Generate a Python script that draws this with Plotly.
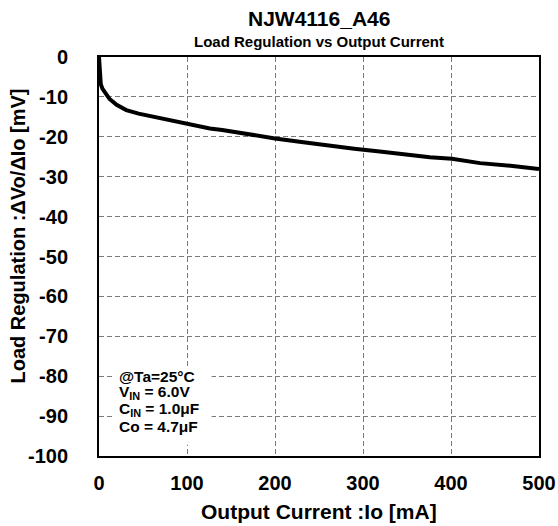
import plotly.graph_objects as go

current_mA = [0, 0.5, 1, 2, 4, 7, 12, 20, 31, 45, 58, 70, 81, 92, 103, 115, 126, 140,
              160, 183, 200, 230, 260, 290, 319, 342, 376, 401, 433, 470, 499, 500]
load_reg_mV = [0, -3, -5, -6.8, -8, -9, -10.5, -12, -13.3, -14.2, -14.8, -15.3, -15.9,
               -16.4, -16.8, -17.3, -17.9, -18.3, -19, -20, -20.4, -21.3, -22.2, -23,
               -23.7, -24.3, -25.1, -25.5, -26.6, -27.3, -28, -28.1]

x_ticks = [0, 100, 200, 300, 400, 500]
y_ticks = [0, -10, -20, -30, -40, -50, -60, -70, -80, -90, -100]

cond_lines = ["@Ta=25°C", "V<sub>IN</sub> = 6.0V", "C<sub>IN</sub> = 1.0μF", "Co = 4.7μF"]
cond_y = [-80.0, -84.2, -88.3, -92.5]

FONT = "Liberation Sans, Arial, sans-serif"

fig = go.Figure()
fig.add_trace(go.Scatter(x=current_mA, y=load_reg_mV, mode="lines",
                         line=dict(color="black", width=4), showlegend=False))

axis_common = dict(showgrid=True, gridcolor="#7a7a7a", griddash="5px,3px", gridwidth=1,
                   showline=True, linecolor="black", linewidth=2, mirror=True,
                   zeroline=False, ticks="", automargin=False,
                   tickfont=dict(family=FONT, size=20, color="black", weight="bold"))

fig.update_xaxes(range=[0, 500], tickvals=x_ticks, ticktext=[str(v) for v in x_ticks],
                 ticklabelstandoff=8, **axis_common)
fig.update_yaxes(range=[-100, 0], tickvals=y_ticks, ticktext=[str(v) for v in y_ticks],
                 ticklabelstandoff=25, **axis_common)

# titles
fig.add_annotation(text="<b>NJW4116_A46</b>", xref="paper", yref="paper",
                   x=0.5, y=1, yshift=39, showarrow=False, yanchor="middle",
                   font=dict(family=FONT, size=21, color="black"))
fig.add_annotation(text="<b>Load Regulation vs Output Current</b>", xref="paper", yref="paper",
                   x=0.5, y=1, yshift=16, showarrow=False, yanchor="middle",
                   font=dict(family=FONT, size=15, color="black"))
# axis titles
fig.add_annotation(text="<b>Output Current :Io [mA]</b>", xref="paper", yref="paper",
                   x=0.5, y=0, yshift=-55, showarrow=False, yanchor="middle",
                   font=dict(family=FONT, size=21, color="black"))
fig.add_annotation(text="<b>Load Regulation :ΔVo/ΔIo [mV]</b>",
                   xref="paper", yref="paper",
                   x=0, xshift=-82, y=0.5, yshift=20, showarrow=False, textangle=-90,
                   xanchor="center", yanchor="middle",
                   font=dict(family=FONT, size=20, color="black"))

# condition box background
fig.add_shape(type="rect", xref="x", yref="y", x0=16, x1=128, y0=-97.2, y1=-77.5,
              fillcolor="white", line=dict(width=0), layer="above")
for txt, yy in zip(cond_lines, cond_y):
    fig.add_annotation(text="<b>" + txt + "</b>", xref="x", yref="y", x=21, y=yy,
                       xanchor="left", yanchor="middle", align="left", showarrow=False,
                       font=dict(family=FONT, size=15.5, color="black"))

fig.update_layout(width=558, height=526, margin=dict(l=99, r=19, t=57, b=70),
                  paper_bgcolor="white", plot_bgcolor="white",
                  font=dict(family=FONT, color="black"))

fig.write_html("out.html", config={"displayModeBar": False},
               post_script="document.body.style.margin='0px';")
